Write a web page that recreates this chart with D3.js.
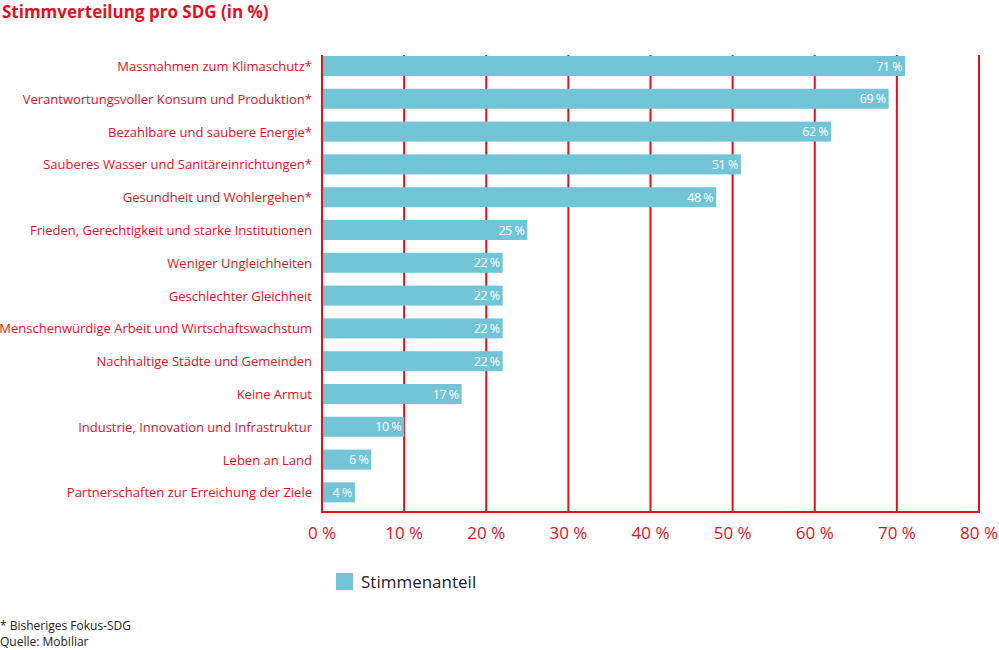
<!DOCTYPE html>
<html>
<head>
<meta charset="utf-8">
<script src="https://cdn.jsdelivr.net/npm/d3@7"></script>
<style>
  body { margin: 0; background: #fff; }
  svg { font-family: "Open Sans", sans-serif; }
</style>
</head>
<body>
<svg id="chart" width="999" height="650"></svg>
<script>
const categories = [
    "Massnahmen zum Klimaschutz*",
    "Verantwortungsvoller Konsum und Produktion*",
    "Bezahlbare und saubere Energie*",
    "Sauberes Wasser und Sanitäreinrichtungen*",
    "Gesundheit und Wohlergehen*",
    "Frieden, Gerechtigkeit und starke Institutionen",
    "Weniger Ungleichheiten",
    "Geschlechter Gleichheit",
    "Menschenwürdige Arbeit und Wirtschaftswachstum",
    "Nachhaltige Städte und Gemeinden",
    "Keine Armut",
    "Industrie, Innovation und Infrastruktur",
    "Leben an Land",
    "Partnerschaften zur Erreichung der Ziele"
];
const values = [71, 69, 62, 51, 48, 25, 22, 22, 22, 22, 17, 10, 6, 4];
const ticks = [0, 10, 20, 30, 40, 50, 60, 70, 80];
const seriesName = "Stimmenanteil";
const footnotes = ["* Bisheriges Fokus-SDG", "Quelle: Mobiliar"];

const red = "#e3101e";
const barColor = "#72c4d6";

const svg = d3.select("#chart");
const plotLeft = 322, plotRight = 979, plotTop = 55, plotBottom = 512;

const x = d3.scaleLinear().domain([0, 80]).range([plotLeft, plotRight]);
// bands: 32.8px step, bars 20px high
const y = d3.scaleBand().domain(categories).range([49.6, 508.8]).paddingInner(0.39).paddingOuter(0.195);

// title
svg.append("text")
    .attr("x", 2).attr("y", 18)
    .attr("fill", red)
    .attr("font-size", "17px")
    .attr("font-weight", "bold")
    .text("Stimmverteilung pro SDG (in %)");

// grid lines
svg.append("g").selectAll("line")
    .data(ticks)
    .join("line")
    .attr("x1", d => x(d)).attr("x2", d => x(d))
    .attr("y1", plotTop).attr("y2", plotBottom)
    .attr("stroke", red)
    .attr("stroke-width", 2);

// bottom axis line
svg.append("line")
    .attr("x1", x(0) - 1).attr("x2", x(80) + 1)
    .attr("y1", plotBottom).attr("y2", plotBottom)
    .attr("stroke", red)
    .attr("stroke-width", 2);

// tick labels
svg.append("g").selectAll("text")
    .data(ticks)
    .join("text")
    .attr("x", d => x(d))
    .attr("y", plotBottom + 27)
    .attr("text-anchor", "middle")
    .attr("fill", red)
    .attr("font-size", "17px")
    .text(d => d + " %");

// bars
svg.append("g").selectAll("rect")
    .data(values)
    .join("rect")
    .attr("x", x(0) + 1)
    .attr("y", (d, i) => y(categories[i]))
    .attr("width", d => x(d) - x(0) - 1)
    .attr("height", y.bandwidth())
    .attr("fill", barColor);

// value labels
svg.append("g").selectAll("text")
    .data(values)
    .join("text")
    .attr("x", d => x(d) - 3)
    .attr("y", (d, i) => y(categories[i]) + y.bandwidth() / 2 + 4.5)
    .attr("text-anchor", "end")
    .attr("fill", "#fff")
    .attr("font-size", "12.5px")
    .attr("letter-spacing", "-0.5px")
    .text(d => d + " %");

// category labels
svg.append("g").selectAll("text")
    .data(categories)
    .join("text")
    .attr("x", plotLeft - 10)
    .attr("y", d => y(d) + y.bandwidth() / 2 + 5)
    .attr("text-anchor", "end")
    .attr("fill", red)
    .attr("font-size", "13px")
    .text(d => d);

// legend
svg.append("rect")
    .attr("x", 336).attr("y", 573)
    .attr("width", 17).attr("height", 17)
    .attr("fill", barColor);
svg.append("text")
    .attr("x", 361).attr("y", 588)
    .attr("fill", "#222")
    .attr("font-size", "17px")
    .text(seriesName);

// footnotes
svg.append("g").selectAll("text")
    .data(footnotes)
    .join("text")
    .attr("x", 0)
    .attr("y", (d, i) => 630 + i * 16)
    .attr("fill", "#222")
    .attr("font-size", "12px")
    .text(d => d);
</script>
</body>
</html>
